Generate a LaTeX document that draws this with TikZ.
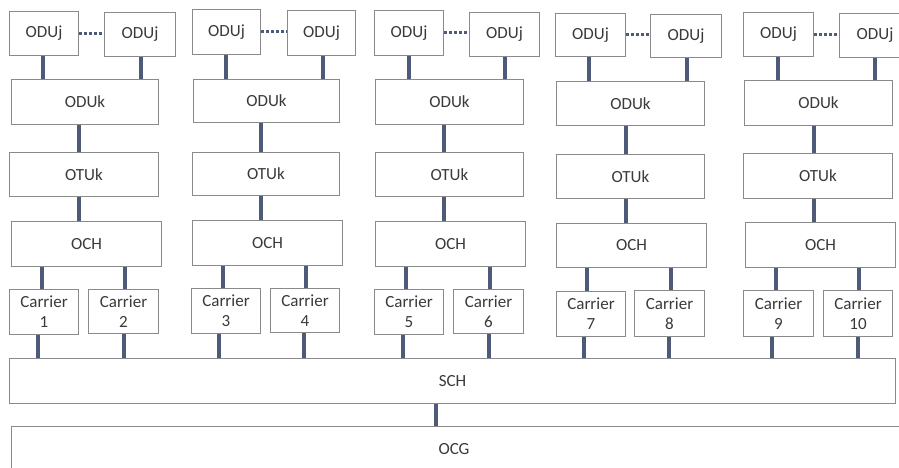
\documentclass[tikz,border=0pt]{standalone}
\usepackage{fontspec}
\setmainfont{Carlito}
\definecolor{boxgray}{HTML}{8A8A8A}
\definecolor{conncol}{HTML}{4D5B78}
\definecolor{textgray}{HTML}{3A3A3A}
\tikzset{
  box/.style={draw=boxgray, line width=1pt, fill=white, text=textgray, inner sep=0pt, align=center, font=\fontsize{17}{20}\selectfont},
  lbl/.style={text=textgray, inner sep=0pt, font=\fontsize{17}{20}\selectfont},
  conn/.style={draw=conncol, line width=3.2pt},
  dotline/.style={draw=conncol, line width=3pt, dash pattern=on 2.5pt off 2.5pt}
}
\newcommand\mybox[6]{\node[box, minimum width=#4pt, minimum height=#5pt] (#1) at (#2,#3) {#6};}
\newcommand\mywires[8]{%
 \draw[conn] (#2,0 |- #1a.south) -- (#2,0 |- #1k.north);
 \draw[conn] (#3,0 |- #1b.south) -- (#3,0 |- #1k.north);
 \draw[conn] (#4,0 |- #1k.south) -- (#4,0 |- #1t.north);
 \draw[conn] (#4,0 |- #1t.south) -- (#4,0 |- #1h.north);
 \draw[conn] (#5,0 |- #1h.south) -- (#5,0 |- #1p.north);
 \draw[conn] (#6,0 |- #1h.south) -- (#6,0 |- #1q.north);
 \draw[conn] (#7,0 |- #1p.south) -- (#7,0 |- sch.north);
 \draw[conn] (#8,0 |- #1q.south) -- (#8,0 |- sch.north);
 \draw[dotline] (#1a.east) -- (#1a.east -| #1b.west);
}
\begin{document}
\begin{tikzpicture}[x=1pt, y=-1pt]
\useasboundingbox (0,0) rectangle (899,468);
\fill[white] (0,0) rectangle (899,468);
\clip (0,0) rectangle (899,468);
% column 1
\mybox{c1a}{44}{33.5}{69}{44}{ODUj}
\mybox{c1b}{140}{34.5}{71}{44}{ODUj}
\mybox{c1k}{85}{102}{147}{45}{ODUk}
\mybox{c1t}{84}{174.5}{149}{44}{OTUk}
\mybox{c1h}{86.5}{244}{150}{45}{OCH}
\mybox{c1p}{44}{312}{69}{45}{Carrier\\1}
\mybox{c1q}{123.5}{311.5}{70}{44}{Carrier\\2}
% column 2
\mybox{c2a}{226.5}{32}{68}{45}{ODUj}
\mybox{c2b}{321.5}{33}{68}{45}{ODUj}
\mybox{c2k}{266.5}{101}{146}{43}{ODUk}
\mybox{c2t}{266}{174}{147}{43}{OTUk}
\mybox{c2h}{267.5}{243}{150}{45}{OCH}
\mybox{c2p}{226}{311}{69}{45}{Carrier\\3}
\mybox{c2q}{305}{310.5}{69}{44}{Carrier\\4}
% column 3
\mybox{c3a}{409}{33}{69}{45}{ODUj}
\mybox{c3b}{504.5}{34.5}{70}{44}{ODUj}
\mybox{c3k}{449.5}{102}{148}{45}{ODUk}
\mybox{c3t}{449.5}{174.5}{148}{44}{OTUk}
\mybox{c3h}{450.5}{244}{150}{45}{OCH}
\mybox{c3p}{409}{312}{69}{45}{Carrier\\5}
\mybox{c3q}{488.5}{311.5}{70}{44}{Carrier\\6}
% column 4
\mybox{c4a}{590.5}{35}{70}{43}{ODUj}
\mybox{c4b}{686}{36}{71}{43}{ODUj}
\mybox{c4k}{630.5}{103.5}{148}{44}{ODUk}
\mybox{c4t}{630.5}{176.5}{148}{44}{OTUk}
\mybox{c4h}{631.5}{245.5}{150}{44}{OCH}
\mybox{c4p}{591}{314}{69}{45}{Carrier\\7}
\mybox{c4q}{669.5}{313.5}{70}{46}{Carrier\\8}
% column 5
\mybox{c5a}{778.5}{34.5}{70}{44}{ODUj}
\mybox{c5b}{875}{35.5}{71}{44}{ODUj}
\mybox{c5k}{818.5}{103}{148}{45}{ODUk}
\mybox{c5t}{818}{176}{149}{45}{OTUk}
\mybox{c5h}{820.5}{245}{150}{45}{OCH}
\mybox{c5p}{778.5}{313.5}{70}{46}{Carrier\\9}
\mybox{c5q}{858}{313.5}{69}{46}{Carrier\\10}
% bottom layers
\mybox{sch}{452.5}{381}{886}{45}{SCH}
\node[box, anchor=north west, minimum width=900pt, minimum height=70pt] (ocg) at (11,426) {};
\node[lbl] (ocglbl) at (454,449) {OCG};
% connectors
\mywires{c1}{43}{141}{79}{42}{125}{38}{124}
\mywires{c2}{226}{323}{261}{223}{306}{219}{304}
\mywires{c3}{409}{505}{444}{406}{490}{403}{489}
\mywires{c4}{589}{687}{626}{587}{671}{584}{669}
\mywires{c5}{778}{875}{814}{776}{859}{772}{858}
\draw[conn] (436,0 |- sch.south) -- (436,0 |- ocg.north);
\end{tikzpicture}
\end{document}
